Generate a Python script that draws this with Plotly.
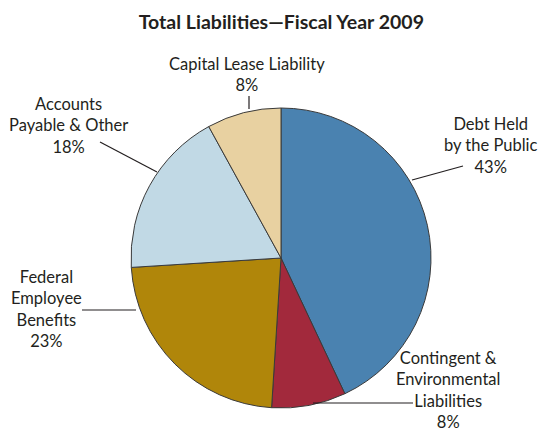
import plotly.graph_objects as go

W, H = 539, 434

categories = ["Debt Held by the Public", "Contingent & Environmental Liabilities",
              "Federal Employee Benefits", "Accounts Payable & Other",
              "Capital Lease Liability"]
label_lines = [["Debt Held", "by the Public"],
               ["Contingent &", "Environmental", "Liabilities"],
               ["Federal", "Employee", "Benefits"],
               ["Accounts", "Payable & Other"],
               ["Capital Lease Liability"]]
values = [43, 8, 23, 18, 8]
colors = ["#4A82B0", "#A2293C", "#B0860A", "#C1D9E5", "#E8D1A1"]

def px(x):
    return x / W

def py(y):
    return 1 - y / H

cx, cy, r = 281, 258, 150

fig = go.Figure(go.Pie(
    labels=categories, values=values, sort=False, direction="clockwise",
    rotation=0, textinfo="none", hoverinfo="label+percent",
    marker=dict(colors=colors, line=dict(color="#3a3a3a", width=1)),
    domain=dict(x=[px(cx - r), px(cx + r)], y=[py(cy + r), py(cy - r)]),
    showlegend=False,
))

# label placement (pixel centers of the text block) and leader lines
label_pos = [(491, 145), (448, 390), (47, 309), (68, 125), (247, 74)]
leaders = [((412, 180), (463, 166)),
           ((313, 403), (413, 403)),
           ((82, 310), (136, 310)),
           ((100, 142), (157, 172)),
           ((249, 96), (249, 109))]

font = dict(family="Lato, 'Noto Sans', sans-serif", size=16.5, color="#231f20")
annotations = []
for lines, v, (x, y) in zip(label_lines, values, label_pos):
    annotations.append(dict(
        x=px(x), y=py(y), xref="paper", yref="paper",
        text="<br>".join(lines + [f"{v}%"]), showarrow=False,
        xanchor="center", yanchor="middle", align="center", font=font))

shapes = [dict(type="line", xref="paper", yref="paper",
               x0=px(a[0]), y0=py(a[1]), x1=px(b[0]), y1=py(b[1]),
               line=dict(color="#231f20", width=1.2)) for a, b in leaders]

fig.update_layout(
    width=W, height=H, margin=dict(l=0, r=0, t=0, b=0),
    paper_bgcolor="white", plot_bgcolor="white",
    title=dict(text="<b>Total Liabilities—Fiscal Year 2009</b>", x=0.522, y=1 - 22 / H,
               xanchor="center", yanchor="middle",
               font=dict(family="Lato, 'Noto Sans', sans-serif", size=19.5, color="#231f20")),
    annotations=annotations, shapes=shapes,
)

fig.write_html("out.html", config={"displayModeBar": False},
               post_script="document.body.style.margin='0';document.body.style.overflow='hidden';")
